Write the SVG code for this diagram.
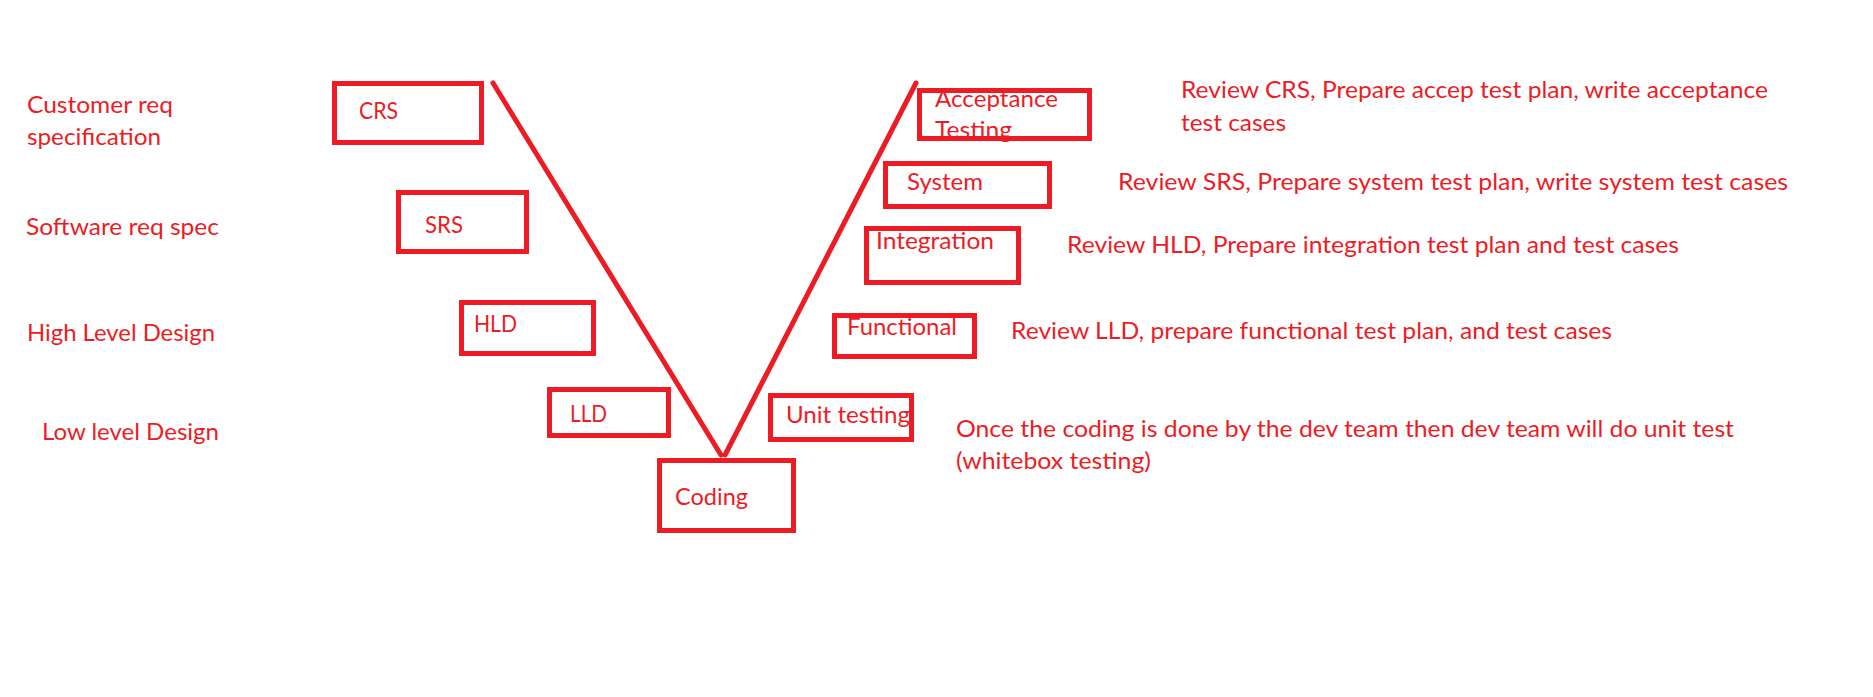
<svg xmlns="http://www.w3.org/2000/svg" width="1873" height="697" viewBox="0 0 1873 697">
<style>
text{font-family:Lato,"Open Sans","Liberation Sans",sans-serif;font-size:23.5px;fill:#ED1C24}
.box{fill:none;stroke:#ED1C24;stroke-width:5}
.v{stroke:#ED1C24;stroke-width:5;stroke-linecap:round;fill:none}
</style>
<rect width="1873" height="697" fill="#fff"/>
<g id="labels-left">
<text x="27" y="113" textLength="146" lengthAdjust="spacingAndGlyphs">Customer req</text>
<text x="27" y="145" textLength="134" lengthAdjust="spacingAndGlyphs">specification</text>
<text x="26" y="235" textLength="193" lengthAdjust="spacingAndGlyphs">Software req spec</text>
<text x="27" y="341" textLength="188" lengthAdjust="spacingAndGlyphs">High Level Design</text>
<text x="42" y="440" textLength="177" lengthAdjust="spacingAndGlyphs">Low level Design</text>
</g>
<g id="connectors">
<line class="v" x1="493" y1="83" x2="721" y2="455"/>
<line class="v" x1="725" y1="455" x2="916" y2="83"/>
</g>
<g id="crs"><rect class="box" x="334.5" y="83.5" width="147" height="59"/><text x="359" y="119" textLength="39" lengthAdjust="spacingAndGlyphs">CRS</text></g>
<g id="srs"><rect class="box" x="398.5" y="192.5" width="128" height="59"/><text x="425" y="233" textLength="38" lengthAdjust="spacingAndGlyphs">SRS</text></g>
<g id="hld"><rect class="box" x="461.5" y="302.5" width="132" height="51"/><text x="474" y="332" textLength="43" lengthAdjust="spacingAndGlyphs">HLD</text></g>
<g id="lld"><rect class="box" x="549.5" y="389.5" width="119" height="46"/><text x="570" y="422" textLength="37" lengthAdjust="spacingAndGlyphs">LLD</text></g>
<g id="coding"><rect class="box" x="659.5" y="460.5" width="134" height="70"/><text x="675" y="505" textLength="73" lengthAdjust="spacingAndGlyphs">Coding</text></g>
<g id="unit"><rect class="box" x="770.5" y="395.5" width="141" height="44"/><text x="786" y="423" textLength="124" lengthAdjust="spacingAndGlyphs">Unit testing</text></g>
<g id="functional"><rect class="box" x="834.5" y="315.5" width="140" height="41"/><text x="847" y="335" textLength="110" lengthAdjust="spacingAndGlyphs">Functional</text></g>
<g id="integration"><rect class="box" x="866.5" y="228.5" width="152" height="54"/><text x="876" y="249" textLength="118" lengthAdjust="spacingAndGlyphs">Integration</text></g>
<g id="system"><rect class="box" x="885.5" y="163.5" width="164" height="43"/><text x="907" y="190" textLength="76" lengthAdjust="spacingAndGlyphs">System</text></g>
<g id="acceptance"><rect class="box" x="919.5" y="90.5" width="170" height="48"/><text x="935" y="107" textLength="123" lengthAdjust="spacingAndGlyphs">Acceptance</text><text x="935" y="138" textLength="77" lengthAdjust="spacingAndGlyphs">Testing</text></g>
<g id="notes-right">
<text x="1181" y="98" textLength="587" lengthAdjust="spacingAndGlyphs">Review CRS, Prepare accep test plan, write acceptance</text>
<text x="1181" y="131" textLength="105" lengthAdjust="spacingAndGlyphs">test cases</text>
<text x="1118" y="190" textLength="670" lengthAdjust="spacingAndGlyphs">Review SRS, Prepare system test plan, write system test cases</text>
<text x="1067" y="253" textLength="612" lengthAdjust="spacingAndGlyphs">Review HLD, Prepare integration test plan and test cases</text>
<text x="1011" y="339" textLength="601" lengthAdjust="spacingAndGlyphs">Review LLD, prepare functional test plan, and test cases</text>
<text x="956" y="437" textLength="778" lengthAdjust="spacingAndGlyphs">Once the coding is done by the dev team then dev team will do unit test</text>
<text x="956" y="469" textLength="195" lengthAdjust="spacingAndGlyphs">(whitebox testing)</text>
</g>
</svg>
